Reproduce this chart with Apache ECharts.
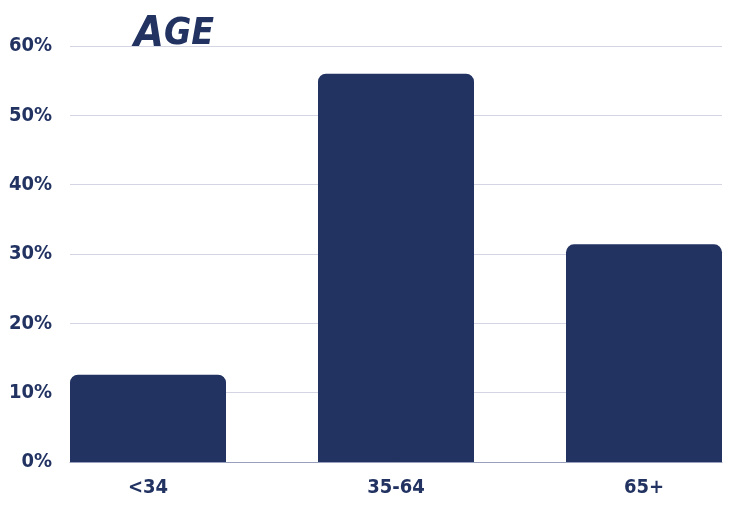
<!DOCTYPE html>
<html><head><meta charset="utf-8">
<script src="https://cdn.jsdelivr.net/npm/echarts@6/dist/echarts.min.js"></script>
<style>html,body{margin:0;padding:0;background:#fff}#c{width:731px;height:507px}</style>
</head><body><div id="c"></div>
<script>
const categories = ['<34', '35-64', '65+'];
const values = [12.6, 56, 31.4];
const yTicks = [0, 10, 20, 30, 40, 50, 60];

const navy = '#223362';
const font = '"DejaVu Sans Condensed", "DejaVu Sans", sans-serif';
const chart = echarts.init(document.getElementById('c'), null, {renderer: 'canvas'});
chart.setOption({
  animation: false,
  title: {
    text: '{a|A}{b|GE}',
    left: 134, top: 13,
    padding: 0,
    textStyle: {
      rich: {
        a: {fontSize: 43, fontWeight: 900, fontStyle: 'italic', color: navy, fontFamily: font},
        b: {fontSize: 37, fontWeight: 900, fontStyle: 'italic', color: navy, fontFamily: font}
      }
    },
    z: 10
  },
  grid: [
    {left: 70, right: 9, top: 46, bottom: 45, outerBoundsMode: 'none'},
    {left: 24, width: 744, top: 46, bottom: 45, outerBoundsMode: 'none'}
  ],
  xAxis: [
    {gridIndex: 0, type: 'category', data: categories, axisLine: {show: true, lineStyle: {color: '#9aa0bb', width: 1}},
     axisTick: {show: false}, axisLabel: {show: false}, splitLine: {show: false}},
    {gridIndex: 1, type: 'category', data: categories, axisLine: {show: false}, axisTick: {show: false},
     axisLabel: {color: navy, fontSize: 20, fontWeight: 'bold', fontFamily: font, margin: 16}}
  ],
  yAxis: [
    {gridIndex: 0, type: 'value', min: yTicks[0], max: yTicks[yTicks.length - 1], interval: 10,
     axisLabel: {formatter: v => v + '%', color: navy, fontSize: 20, fontWeight: 'bold', fontFamily: font, margin: 18},
     axisLine: {show: false}, axisTick: {show: false},
     splitLine: {lineStyle: {color: '#d3d5e2', width: 1}}},
    {gridIndex: 1, type: 'value', min: yTicks[0], max: yTicks[yTicks.length - 1], interval: 10,
     show: false, splitLine: {show: false}}
  ],
  series: [{
    type: 'bar', xAxisIndex: 1, yAxisIndex: 1, data: values, barWidth: 156,
    itemStyle: {color: navy, borderRadius: [8, 8, 0, 0]}, z: 3
  }]
});
</script></body></html>
